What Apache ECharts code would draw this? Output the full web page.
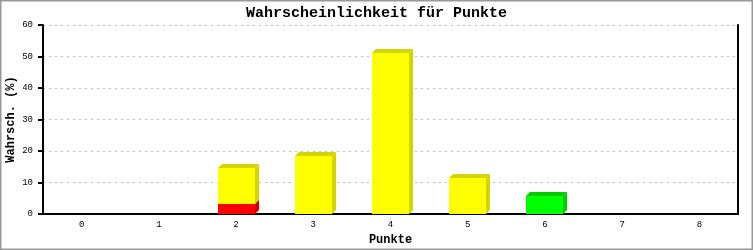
<!DOCTYPE html>
<html>
<head>
<meta charset="utf-8">
<script src="https://cdn.jsdelivr.net/npm/echarts@6/dist/echarts.min.js"></script>
<style>
  html, body { margin: 0; padding: 0; background: #fff; }
  #chart { width: 753px; height: 250px; }
</style>
</head>
<body>
<div id="chart"></div>
<script>
// Kategorien (Punkte)
var categories = ['0', '1', '2', '3', '4', '5', '6', '7', '8'];
// gestapelte Anteile in %, von unten nach oben
var redVals    = [0, 0, 3.2, 0, 0, 0, 0, 0, 0];
var greenVals  = [0, 0, 0, 0, 0, 0, 5.7, 0, 0];
var yellowVals = [0, 0, 11.4, 18.5, 51.2, 11.3, 0, 0, 0];
var yTicks = [0, 10, 20, 30, 40, 50, 60];

var stackOrder = [
  { name: 'rot',  vals: redVals,    face: '#ff0000', dark: '#cc0000' },
  { name: 'gruen', vals: greenVals, face: '#00ff00', dark: '#00cc00' },
  { name: 'gelb', vals: yellowVals, face: '#ffff00', dark: '#d4d400' }
];

var FONT = '"Liberation Mono", "DejaVu Sans Mono", monospace';

/**
 * 3D-Balken zeichnen (Front, Seite, Deckel)
 */
function makeRenderItem(face, dark) {
  return function (params, api) {
    var base = api.value(1), top = api.value(2);
    if (top - base <= 0) return null;
    var p0 = api.coord([api.value(0), base]);
    var p1 = api.coord([api.value(0), top]);
    var w = api.size([1, 0])[0] * 0.48;
    var x = Math.round(p0[0] - w / 2);
    w = Math.round(w);
    var d = 4;
    var yb = Math.round(p0[1]), yt = Math.round(p1[1]);
    return {
      type: 'group',
      children: [
        { type: 'polygon', shape: { points: [[x + w, yt], [x + w + d, yt - d], [x + w + d, yb - d], [x + w, yb]] },
          style: { fill: dark } },
        { type: 'polygon', shape: { points: [[x, yt], [x + d, yt - d], [x + w + d, yt - d], [x + w, yt]] },
          style: { fill: dark } },
        { type: 'rect', shape: { x: x, y: yt, width: w, height: yb - yt },
          style: { fill: face } }
      ]
    };
  };
}

var series = [];
var baseArr = categories.map(function () { return 0; });
stackOrder.forEach(function (s) {
  var data = [];
  for (var i = 0; i < categories.length; i++) {
    data.push([i, baseArr[i], baseArr[i] + s.vals[i]]);
    baseArr[i] += s.vals[i];
  }
  series.push({
    name: s.name,
    type: 'custom',
    renderItem: makeRenderItem(s.face, s.dark),
    encode: { x: 0, y: 2 },
    data: data,
    z: 3
  });
});

var myChart = echarts.init(document.getElementById('chart'));
myChart.setOption({
  animation: false,
  backgroundColor: '#fff',
  title: {
    text: 'Wahrscheinlichkeit für Punkte',
    left: 'center',
    top: 1,
    textStyle: { fontFamily: FONT, fontSize: 15, fontWeight: 'bold', color: '#000' }
  },
  grid: { left: 43, right: 15, top: 25, bottom: 36, containLabel: false, outerBoundsMode: 'none' },
  xAxis: {
    type: 'category',
    data: categories,
    boundaryGap: true,
    name: 'Punkte',
    nameLocation: 'middle',
    nameGap: 20,
    nameMoveOverlap: false,
    nameTextStyle: { fontFamily: FONT, fontSize: 12, fontWeight: 'bold', color: '#000' },
    axisLine: { lineStyle: { color: '#000', width: 2 } },
    axisTick: { show: false },
    axisLabel: { fontFamily: FONT, fontSize: 9, color: '#000', margin: 6 },
    splitLine: { show: false }
  },
  yAxis: [{
    type: 'value',
    min: yTicks[0],
    max: yTicks[yTicks.length - 1],
    interval: 10,
    name: 'Wahrsch. (%)',
    nameLocation: 'middle',
    nameGap: 26,
    nameMoveOverlap: false,
    nameTextStyle: { fontFamily: FONT, fontSize: 12, fontWeight: 'bold', color: '#000' },
    axisLine: { show: true, lineStyle: { color: '#000', width: 2 } },
    axisTick: { show: true, length: 5, lineStyle: { color: '#000', width: 2 } },
    axisLabel: { fontFamily: FONT, fontSize: 9, color: '#000', margin: 10 },
    splitLine: { lineStyle: { color: '#bbbbbb', type: [2, 4] } }
  }, {
    type: 'value',
    min: 0, max: 60, interval: 10,
    position: 'right',
    axisLine: { show: true, lineStyle: { color: '#000', width: 2 } },
    axisTick: { show: false },
    axisLabel: { show: false },
    splitLine: { show: false }
  }],
  series: series,
  graphic: [{
    type: 'rect',
    shape: { x: 0.5, y: 0.5, width: 752, height: 249 },
    style: { fill: null, stroke: '#999', lineWidth: 2 },
    silent: true
  }]
});
</script>
</body>
</html>
